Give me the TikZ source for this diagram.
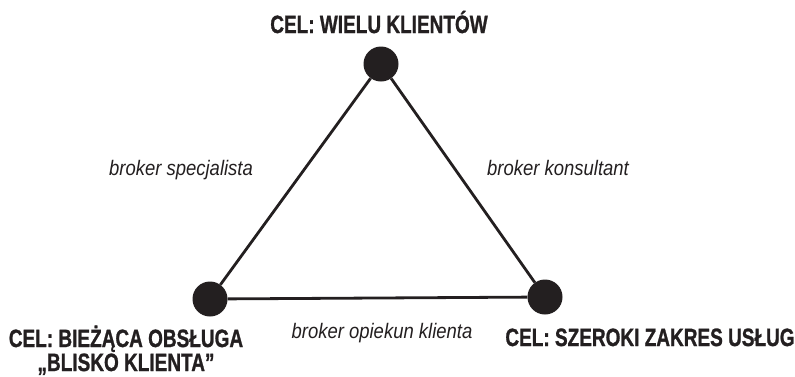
\documentclass[tikz,border=0pt]{standalone}
\usepackage{fontspec}
\setmainfont{Liberation Sans}
\newfontfamily\capfont[FakeBold=1.2]{Liberation Sans Bold}
\newfontfamily\itfont{Liberation Sans Italic}
\definecolor{ink}{HTML}{231F20}
\newcommand{\goaltxt}[1]{\scalebox{0.76}[1]{\capfont\fontsize{25}{26}\selectfont #1}}
\newcommand{\roletxt}[1]{\scalebox{0.88}[1]{\itfont\fontsize{21}{24}\selectfont #1}}
\begin{document}
\begin{tikzpicture}[x=1pt,y=-1pt,
  vertex/.style={circle,fill=ink,minimum size=35pt,inner sep=0pt},
  edge/.style={draw=ink,line width=2.8pt},
  goal/.style={anchor=base,inner sep=0pt,text=ink},
  role/.style={anchor=base,inner sep=0pt,text=ink}]
\useasboundingbox (0,0) rectangle (795,376);
\node[vertex] (top) at (381,64) {};
\node[vertex] (bl) at (210,299) {};
\node[vertex] (br) at (545,297) {};
\draw[edge] (top) -- (bl);
\draw[edge] (top) -- (br);
\draw[edge] (bl) -- (br);
\node[goal] (ltop) at (379,33) {\goaltxt{CEL: WIELU KLIENTÓW}};
\node[goal] (lbl1) at (126,347) {\goaltxt{CEL: BIEŻĄCA OBSŁUGA}};
\node[goal] (lbl2) at (126,371) {\goaltxt{„BLISKO KLIENTA”}};
\node[goal] (lbr) at (650,346) {\goaltxt{CEL: SZEROKI ZAKRES USŁUG}};
\node[role] (spec) at (181,175) {\roletxt{broker specjalista}};
\node[role] (kons) at (558,175) {\roletxt{broker konsultant}};
\node[role] (opie) at (382,338) {\roletxt{broker opiekun klienta}};
\end{tikzpicture}
\end{document}
